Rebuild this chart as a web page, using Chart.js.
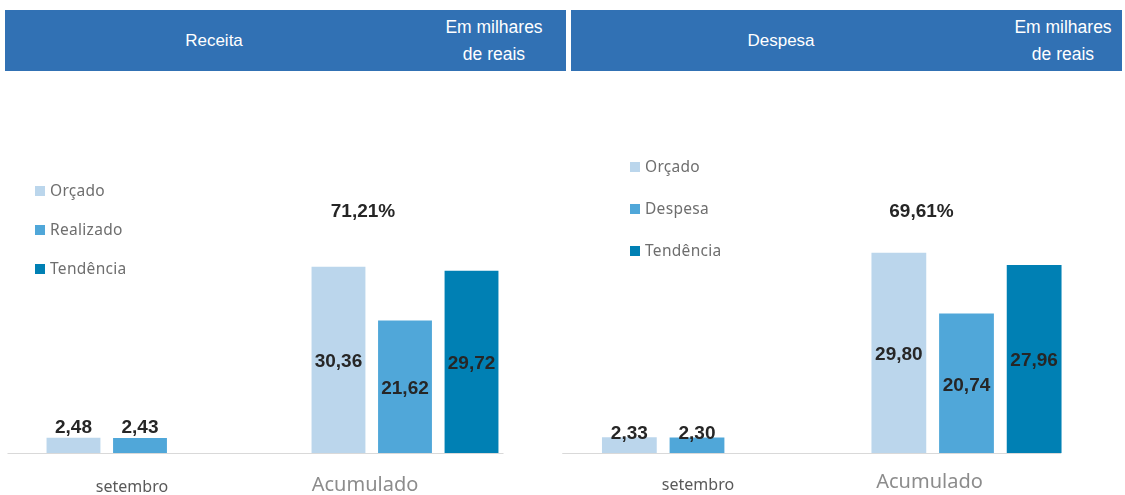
<!DOCTYPE html>
<html>
<head>
<meta charset="utf-8">
<script src="https://cdn.jsdelivr.net/npm/chart.js@4/dist/chart.umd.min.js"></script>
<style>
  body { margin: 0; width: 1125px; height: 495px; background: #fff; position: relative; overflow: hidden; font-family: "Liberation Sans", Arial, sans-serif; }
  .head { position: absolute; top: 10px; height: 61px; background: #3171b4; color: #fff; }
  .head .title { position: absolute; top: 31px; transform: translate(-50%, -50%); font-size: 17px; white-space: nowrap; }
  .head .unit { position: absolute; top: 4px; transform: translateX(-50%); font-size: 17.5px; line-height: 27px; text-align: center; white-space: nowrap; }
  canvas { position: absolute; top: 80px; }
  .legend { position: absolute; font-family: "Noto Sans", sans-serif; font-size: 15.5px; color: #6e6e6e; letter-spacing: 0.3px; }
  .legend div { position: absolute; white-space: nowrap; transform: translateY(-50%); }
  .legend span { display: inline-block; width: 10px; height: 10px; margin-right: 5px; }
</style>
</head>
<body>
<div class="head" style="left:5px; width:561px;">
  <div class="title" style="left:209px;">Receita</div>
  <div class="unit" style="left:489px;">Em milhares<br>de reais</div>
</div>
<div class="head" style="left:571px; width:551px;">
  <div class="title" style="left:210px;">Despesa</div>
  <div class="unit" style="left:492px;">Em milhares<br>de reais</div>
</div>

<canvas id="receita" width="566" height="415" style="left:0px;"></canvas>
<canvas id="despesa" width="569" height="415" style="left:556px;"></canvas>
<div class="legend" id="legReceita" style="left:35px; top:190px;"></div>
<div class="legend" id="legDespesa" style="left:630px; top:166px;"></div>

<script>
const categories = ['setembro', 'Acumulado'];
const receitaOrcado = [2.48, 30.36];
const receitaRealizado = [2.43, 21.62];
const receitaTendencia = [null, 29.72];
const despesaOrcado = [2.33, 29.80];
const despesaRealizado = [2.30, 20.74];
const despesaTendencia = [null, 27.96];
const receitaLegend = ['Orçado', 'Realizado', 'Tendência'];
const despesaLegend = ['Orçado', 'Despesa', 'Tendência'];
const percentLabels = ['71,21%', '69,61%'];

const colors = ['#bbd6ec', '#50a7d9', '#0080b4'];

function fmt(v) {
    return v.toFixed(2).replace('.', ',');
}

// value labels, baseline, category labels and the percentage
const extras = {
    id: 'extras',
    afterDatasetsDraw(chart) {
        const o = chart.options.plugins.extras;
        const ctx = chart.ctx;
        const area = chart.chartArea;
        const xs = chart.scales.x;
        ctx.save();

        ctx.strokeStyle = '#d9d9d9';
        ctx.lineWidth = 1;
        ctx.beginPath();
        ctx.moveTo(area.left, area.bottom + 0.5);
        ctx.lineTo(area.right - o.lineInset, area.bottom + 0.5);
        ctx.stroke();

        ctx.fillStyle = '#262626';
        ctx.font = 'bold 19px "Liberation Sans", Arial, sans-serif';
        ctx.textAlign = 'center';
        ctx.textBaseline = 'middle';
        chart.data.datasets.forEach((ds, i) => {
            chart.getDatasetMeta(i).data.forEach((bar, j) => {
                const v = ds.data[j];
                if (v == null) return;
                const h = bar.base - bar.y;
                const y = h > 40 ? (bar.y + bar.base) / 2 + 2 : bar.y - o.above;
                ctx.fillText(fmt(v), bar.x, y);
            });
        });

        ctx.font = 'bold 19px "Liberation Sans", Arial, sans-serif';
        ctx.fillText(o.pct, xs.getPixelForValue(1) + o.pctShift, o.pctY);

        categories.forEach((c, i) => {
            ctx.font = o.catFonts[i];
            ctx.fillStyle = o.catColors[i];
            ctx.fillText(c, xs.getPixelForValue(i) + o.catShift[i], area.bottom + o.catY[i]);
        });
        ctx.restore();
    }
};

function makeChart(id, labels, series, yMax, pad, o) {
    new Chart(document.getElementById(id), {
        type: 'bar',
        data: {
            labels: categories,
            datasets: series.map((d, i) => ({
                label: labels[i],
                data: d,
                backgroundColor: colors[i],
                borderWidth: 0,
                barPercentage: 0.81,
                categoryPercentage: 0.753
            }))
        },
        options: {
            responsive: false,
            animation: false,
            layout: { padding: pad },
            scales: {
                x: { display: false },
                y: { display: false, min: 0, max: yMax }
            },
            plugins: {
                legend: { display: false },
                tooltip: { enabled: false },
                extras: o
            }
        },
        plugins: [extras]
    });
}

function makeLegend(id, labels, gap) {
    const el = document.getElementById(id);
    labels.forEach((l, i) => {
        const d = document.createElement('div');
        d.style.top = (i * gap) + 'px';
        d.innerHTML = '<span style="background:' + colors[i] + '"></span>' + l;
        el.appendChild(d);
    });
}

makeChart('receita', receitaLegend, [receitaOrcado, receitaRealizado, receitaTendencia], 59.2,
    { left: 7.5, right: 28.5, top: 10, bottom: 42 },
    {
        lineInset: 34, above: 10, pct: percentLabels[0], pctShift: -42, pctY: 132,
        catFonts: ['16px "Noto Sans", sans-serif', '20px "Noto Sans", sans-serif'],
        catColors: ['#595959', '#8c8c8c'], catShift: [-8, -40], catY: [34, 32]
    });

makeChart('despesa', despesaLegend, [despesaOrcado, despesaRealizado, despesaTendencia], 54.0,
    { left: 6.25, right: 23.75, top: 10, bottom: 42 },
    {
        lineInset: 40, above: 4, pct: percentLabels[1], pctShift: -45, pctY: 132,
        catFonts: ['16px "Noto Sans", sans-serif', '20px "Noto Sans", sans-serif'],
        catColors: ['#595959', '#8c8c8c'], catShift: [1, -37], catY: [32, 29]
    });

makeLegend('legReceita', receitaLegend, 39);
makeLegend('legDespesa', despesaLegend, 42);
</script>
</body>
</html>
